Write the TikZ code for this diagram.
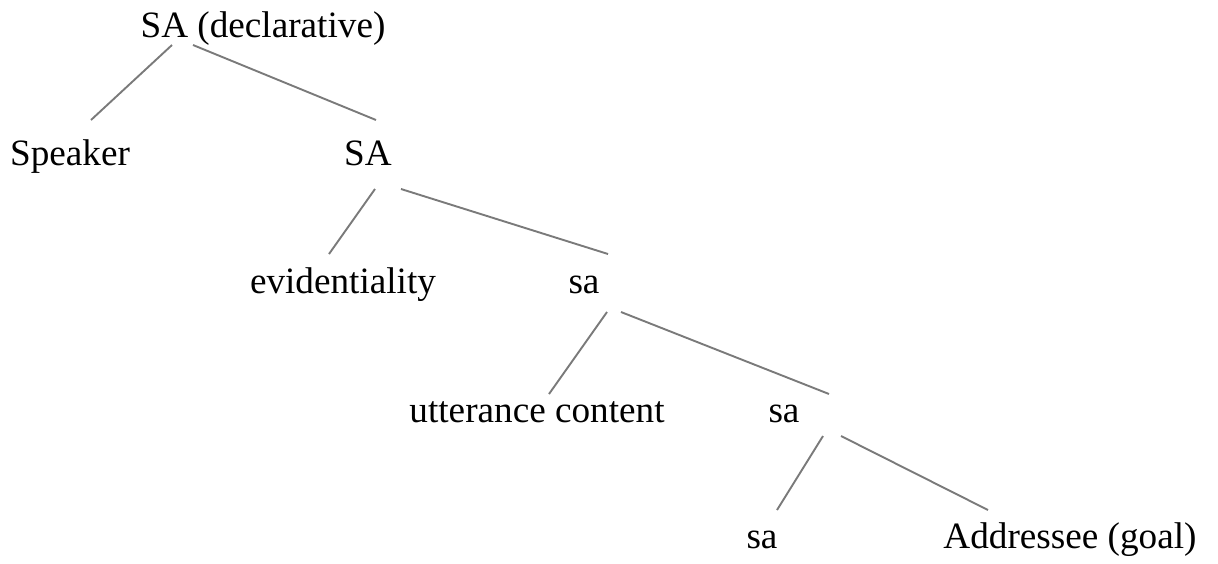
\documentclass[tikz,border=0pt]{standalone}
\usepackage{fontspec}
\setmainfont{Liberation Serif}
\begin{document}
\begin{tikzpicture}[x=0.5pt,y=-0.5pt,
  lbl/.style={anchor=base,inner sep=0pt,font=\fontsize{18.6}{22}\selectfont},
  branch/.style={draw=black!52,line width=0.95pt}]
\useasboundingbox (0,0) rectangle (1218,563);
% labels, placed on their baselines
\node[lbl] (decl) at (263,37)  {SA (declarative)};
\node[lbl] (spk)  at (70,165)  {Speaker};
\node[lbl] (SA)   at (368,165) {SA};
\node[lbl] (evid) at (343,293) {evidentiality};
\node[lbl] (saA)  at (584,293) {sa};
\node[lbl] (utt)  at (537,422) {utterance content};
\node[lbl] (saB)  at (784,422) {sa};
\node[lbl] (saC)  at (762,548) {sa};
\node[lbl] (addr) at (1070,548) {Addressee (goal)};
% branches
\draw[branch] ([shift={(-91,8)}]decl.base) -- ([shift={(21,-45)}]spk.base);
\draw[branch] ([shift={(-70,8)}]decl.base) -- ([shift={(8,-45)}]SA.base);
\draw[branch] ([shift={(7,24)}]SA.base) -- ([shift={(-14,-39)}]evid.base);
\draw[branch] ([shift={(33,24)}]SA.base) -- ([shift={(24,-39)}]saA.base);
\draw[branch] ([shift={(23,19)}]saA.base) -- ([shift={(12,-28)}]utt.base);
\draw[branch] ([shift={(37,19)}]saA.base) -- ([shift={(45,-28)}]saB.base);
\draw[branch] ([shift={(39,14)}]saB.base) -- ([shift={(15,-38)}]saC.base);
\draw[branch] ([shift={(57,14)}]saB.base) -- ([shift={(-82,-38)}]addr.base);
\end{tikzpicture}
\end{document}
